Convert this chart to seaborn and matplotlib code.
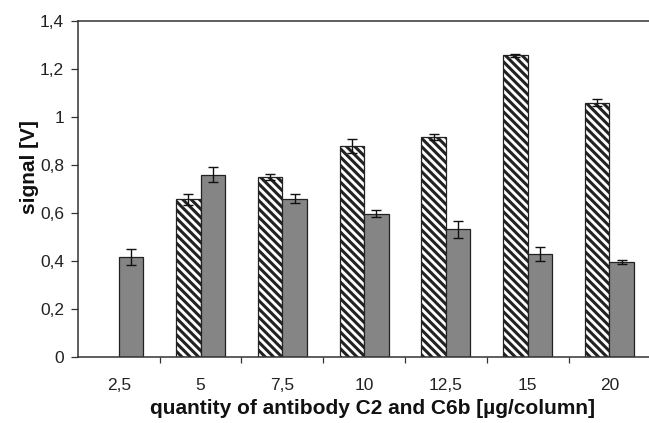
import numpy as np
import pandas as pd
import matplotlib
matplotlib.use("Agg")
import matplotlib.pyplot as plt
import seaborn as sns

categories = ["2,5", "5", "7,5", "10", "12,5", "15", "20"]
series_names = ["C2", "C6b"]
hatched_values = [np.nan, 0.658, 0.750, 0.880, 0.917, 1.257, 1.060]
hatched_errors = [np.nan, 0.023, 0.012, 0.030, 0.014, 0.005, 0.015]
gray_values = [0.417, 0.760, 0.660, 0.598, 0.532, 0.430, 0.395]
gray_errors = [0.035, 0.030, 0.020, 0.015, 0.037, 0.028, 0.008]
y_ticks = [0, 0.2, 0.4, 0.6, 0.8, 1.0, 1.2, 1.4]
y_tick_labels = ["0", "0,2", "0,4", "0,6", "0,8", "1", "1,2", "1,4"]

sns.set_style("white")
plt.rcParams["font.family"] = ["Liberation Sans", "DejaVu Sans"]
plt.rcParams["hatch.linewidth"] = 2.2
plt.rcParams["hatch.color"] = "black"

df = pd.DataFrame({
    "quantity": categories * 2,
    "series": [series_names[0]] * len(categories) + [series_names[1]] * len(categories),
    "signal": hatched_values + gray_values,
})
errs = {series_names[0]: hatched_errors, series_names[1]: gray_errors}

fig = plt.figure(figsize=(6.49, 4.23), dpi=100)
ax = fig.add_axes([0.120, 0.156, 0.882, 0.794])

sns.barplot(data=df, x="quantity", y="signal", hue="series", order=categories,
            hue_order=series_names, palette=["white", "#858585"], width=0.6,
            gap=0, errorbar=None, edgecolor="#222222", linewidth=0.9,
            legend=False, ax=ax)

bar_containers = list(ax.containers)
for ci, cont in enumerate(bar_containers):
    name = series_names[ci]
    for p in cont.patches:
        cx = p.get_x() + p.get_width() / 2
        h = p.get_height()
        if not np.isfinite(h):
            continue
        idx = int(round(cx))
        if ci == 0:
            p.set_hatch("\\\\\\\\")
        e = errs[name][idx]
        if np.isfinite(e):
            ax.errorbar(cx, h, yerr=e, fmt="none", ecolor="#111111",
                        elinewidth=1.0, capsize=3.5, capthick=1.0, zorder=5)

ax.set_xlim(-0.5, 6.5)
ax.set_ylim(0, 1.4)
ax.set_yticks(y_ticks)
ax.set_yticklabels(y_tick_labels)
ax.set_xticks(range(len(categories)))
ax.set_xticklabels(categories)
ax.set_xticks(np.arange(0.5, len(categories) - 0.5, 1.0), minor=True)
ax.tick_params(axis="x", which="major", length=0, pad=15, labelsize=12.5)
ax.tick_params(axis="x", which="minor", length=4, width=0.9, direction="out",
               color="#333333", bottom=True)
ax.tick_params(axis="y", length=5, width=0.9, direction="out", left=True,
               labelsize=12.5, color="#333333", pad=5)
for lbl in ax.get_yticklabels() + ax.get_xticklabels():
    lbl.set_color("#222222")

for s in ["left", "bottom", "top", "right"]:
    ax.spines[s].set_visible(True)
    ax.spines[s].set_color("#333333")
    ax.spines[s].set_linewidth(1.1)

ax.set_xlabel("quantity of antibody C2 and C6b [µg/column]", fontsize=15,
              fontweight="bold", color="#111111")
ax.set_ylabel("signal [V]", fontsize=15, fontweight="bold", color="#111111")
ax.xaxis.set_label_coords(0.514, -0.125)
ax.yaxis.set_label_coords(-0.068, 0.565)
ax.grid(False)

fig.savefig("out.png", dpi=100)
